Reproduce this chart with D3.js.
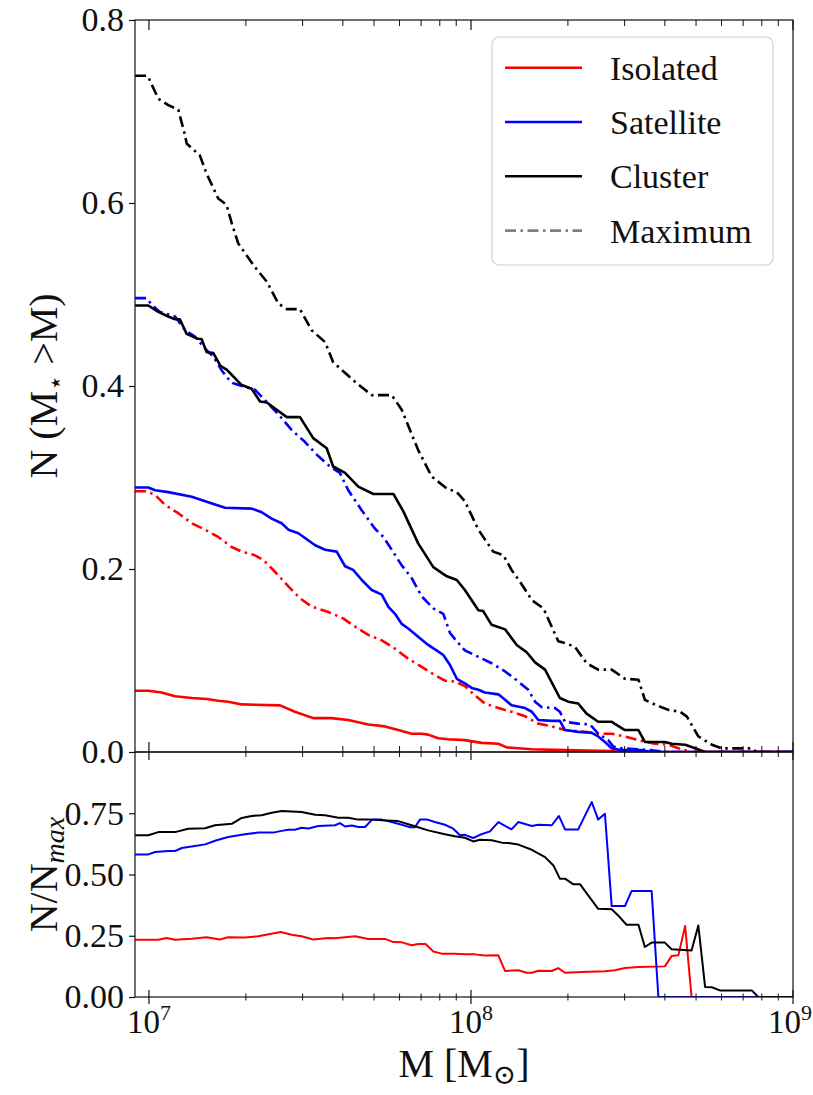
<!DOCTYPE html>
<html lang="en">
<head>
<meta charset="utf-8">
<title>Cumulative mass function</title>
<script src="https://d3js.org/d3.v7.min.js"></script>
<style>
  body { margin: 0; background: #fff; }
  svg { font-family: "Liberation Serif", "DejaVu Serif", serif; }
  .domain { display: none; }
</style>
</head>
<body>
<script>
// values; masses are log10(M / Msun)

// top panel: N(M* > M)
var isoM = [6.957, 6.998, 7.039, 7.081, 7.133, 7.179, 7.215, 7.246, 7.288, 7.407, 7.453, 7.510, 7.567, 7.619, 7.681, 7.733, 7.774, 7.816, 7.847, 7.867, 7.898, 7.930, 7.981, 8.033, 8.085, 8.111, 8.189, 8.292, 8.437, 8.468, 9.0]
var iso = [0.067, 0.067, 0.065, 0.061, 0.059, 0.058, 0.056, 0.055, 0.052, 0.051, 0.044, 0.037, 0.037, 0.035, 0.030, 0.028, 0.024, 0.020, 0.020, 0.019, 0.015, 0.014, 0.013, 0.010, 0.009, 0.005, 0.003, 0.002, 0.001, 0.0, 0.0]

var isoMaxM = [6.957, 6.993, 7.019, 7.050, 7.091, 7.133, 7.174, 7.215, 7.257, 7.288, 7.329, 7.355, 7.391, 7.433, 7.469, 7.505, 7.557, 7.603, 7.640, 7.681, 7.723, 7.764, 7.805, 7.847, 7.888, 7.919, 7.950, 7.981, 8.012, 8.043, 8.085, 8.126, 8.168, 8.209, 8.251, 8.292, 8.354, 8.395, 8.437, 8.478, 8.520, 8.571, 8.613, 8.644, 8.685, 9.0]
var isoMax = [0.285, 0.285, 0.281, 0.270, 0.261, 0.250, 0.243, 0.235, 0.224, 0.219, 0.215, 0.210, 0.197, 0.181, 0.168, 0.159, 0.153, 0.146, 0.137, 0.128, 0.122, 0.113, 0.102, 0.093, 0.084, 0.078, 0.077, 0.072, 0.062, 0.053, 0.048, 0.044, 0.039, 0.031, 0.028, 0.024, 0.022, 0.020, 0.020, 0.017, 0.013, 0.009, 0.008, 0.004, 0.0, 0.0]

var satM = [6.957, 6.998, 7.019, 7.060, 7.133, 7.184, 7.236, 7.319, 7.350, 7.381, 7.412, 7.433, 7.464, 7.516, 7.547, 7.583, 7.609, 7.634, 7.661, 7.692, 7.723, 7.743, 7.764, 7.785, 7.805, 7.836, 7.867, 7.893, 7.914, 7.935, 7.956, 7.981, 8.002, 8.023, 8.043, 8.085, 8.106, 8.126, 8.168, 8.189, 8.209, 8.251, 8.276, 8.292, 8.333, 8.375, 8.395, 8.416, 8.437, 8.468, 8.530, 8.561, 9.0]
var sat = [0.289, 0.289, 0.286, 0.284, 0.279, 0.273, 0.267, 0.266, 0.262, 0.255, 0.250, 0.243, 0.239, 0.226, 0.221, 0.219, 0.203, 0.199, 0.188, 0.177, 0.172, 0.159, 0.151, 0.140, 0.135, 0.126, 0.117, 0.111, 0.106, 0.095, 0.080, 0.075, 0.070, 0.068, 0.065, 0.063, 0.057, 0.051, 0.048, 0.044, 0.035, 0.034, 0.034, 0.024, 0.022, 0.021, 0.017, 0.011, 0.004, 0.002, 0.002, 0.0, 0.0]

var satMaxM = [6.957, 6.993, 7.008, 7.034, 7.081, 7.112, 7.143, 7.174, 7.200, 7.226, 7.246, 7.262, 7.288, 7.329, 7.370, 7.412, 7.443, 7.484, 7.521, 7.562, 7.593, 7.619, 7.661, 7.702, 7.728, 7.754, 7.785, 7.816, 7.847, 7.883, 7.914, 7.935, 7.956, 7.981, 8.023, 8.064, 8.106, 8.147, 8.178, 8.199, 8.220, 8.261, 8.276, 8.292, 8.333, 8.370, 8.395, 8.426, 8.442, 8.468, 8.561, 8.602, 9.0]
var satMax = [0.496, 0.496, 0.489, 0.481, 0.476, 0.461, 0.454, 0.441, 0.432, 0.417, 0.408, 0.403, 0.400, 0.396, 0.381, 0.365, 0.352, 0.339, 0.325, 0.312, 0.305, 0.286, 0.264, 0.244, 0.235, 0.221, 0.204, 0.190, 0.170, 0.157, 0.151, 0.130, 0.121, 0.111, 0.104, 0.097, 0.088, 0.077, 0.068, 0.055, 0.049, 0.048, 0.044, 0.033, 0.031, 0.030, 0.020, 0.013, 0.006, 0.004, 0.002, 0.0, 0.0]

var clM = [6.957, 6.998, 7.029, 7.060, 7.081, 7.096, 7.117, 7.148, 7.164, 7.179, 7.200, 7.222, 7.241, 7.288, 7.319, 7.345, 7.366, 7.428, 7.469, 7.510, 7.552, 7.572, 7.609, 7.650, 7.697, 7.759, 7.790, 7.836, 7.883, 7.925, 7.956, 7.981, 8.023, 8.038, 8.064, 8.106, 8.142, 8.173, 8.199, 8.230, 8.276, 8.302, 8.333, 8.359, 8.395, 8.437, 8.478, 8.520, 8.540, 8.602, 8.623, 8.665, 8.696, 8.727, 9.0]
var cl = [0.488, 0.488, 0.481, 0.476, 0.473, 0.473, 0.457, 0.452, 0.451, 0.437, 0.436, 0.422, 0.418, 0.401, 0.397, 0.383, 0.382, 0.366, 0.366, 0.343, 0.332, 0.312, 0.305, 0.290, 0.282, 0.282, 0.263, 0.228, 0.202, 0.192, 0.188, 0.177, 0.155, 0.154, 0.139, 0.134, 0.117, 0.109, 0.098, 0.090, 0.059, 0.055, 0.053, 0.042, 0.033, 0.033, 0.024, 0.024, 0.011, 0.011, 0.009, 0.008, 0.004, 0.0, 0.0]

var clMaxM = [6.957, 6.996, 7.029, 7.060, 7.091, 7.112, 7.117, 7.158, 7.179, 7.215, 7.241, 7.257, 7.277, 7.329, 7.366, 7.402, 7.428, 7.469, 7.505, 7.547, 7.572, 7.645, 7.692, 7.754, 7.785, 7.836, 7.878, 7.925, 7.956, 7.981, 8.023, 8.069, 8.101, 8.126, 8.158, 8.189, 8.225, 8.271, 8.292, 8.323, 8.359, 8.395, 8.437, 8.478, 8.520, 8.540, 8.576, 8.613, 8.649, 8.670, 8.706, 8.748, 8.779, 8.841, 8.872, 8.887, 9.0]
var clMax = [0.739, 0.739, 0.714, 0.707, 0.702, 0.674, 0.665, 0.652, 0.632, 0.605, 0.598, 0.578, 0.556, 0.530, 0.514, 0.490, 0.484, 0.484, 0.461, 0.448, 0.426, 0.403, 0.390, 0.390, 0.374, 0.330, 0.301, 0.288, 0.284, 0.274, 0.243, 0.219, 0.215, 0.199, 0.183, 0.166, 0.157, 0.121, 0.119, 0.115, 0.097, 0.090, 0.090, 0.080, 0.079, 0.057, 0.051, 0.046, 0.044, 0.039, 0.017, 0.008, 0.004, 0.004, 0.004, 0.0, 0.0]

// bottom panel: N / N_max
var isoFracM = [6.957, 7.029, 7.055, 7.081, 7.133, 7.179, 7.220, 7.246, 7.298, 7.339, 7.376, 7.409, 7.443, 7.474, 7.510, 7.557, 7.578, 7.640, 7.681, 7.733, 7.759, 7.785, 7.816, 7.836, 7.859, 7.883, 7.909, 7.950, 7.981, 8.012, 8.043, 8.085, 8.106, 8.147, 8.173, 8.189, 8.209, 8.251, 8.271, 8.292, 8.344, 8.416, 8.447, 8.478, 8.520, 8.602, 8.623, 8.644, 8.665, 8.685, 9.0]
var isoFrac = [0.234, 0.234, 0.241, 0.234, 0.238, 0.244, 0.235, 0.244, 0.243, 0.248, 0.257, 0.265, 0.254, 0.248, 0.235, 0.241, 0.240, 0.248, 0.237, 0.237, 0.224, 0.223, 0.211, 0.216, 0.216, 0.186, 0.177, 0.177, 0.174, 0.174, 0.169, 0.170, 0.106, 0.109, 0.099, 0.099, 0.107, 0.106, 0.118, 0.099, 0.102, 0.105, 0.109, 0.118, 0.122, 0.125, 0.167, 0.170, 0.290, 0.0, 0.0]

var satFracM = [6.957, 6.998, 7.019, 7.060, 7.081, 7.102, 7.138, 7.174, 7.210, 7.246, 7.298, 7.339, 7.386, 7.412, 7.433, 7.453, 7.474, 7.495, 7.526, 7.578, 7.593, 7.609, 7.630, 7.650, 7.671, 7.693, 7.723, 7.754, 7.785, 7.811, 7.826, 7.842, 7.862, 7.888, 7.919, 7.945, 7.966, 7.981, 8.007, 8.028, 8.059, 8.085, 8.126, 8.147, 8.189, 8.209, 8.251, 8.273, 8.292, 8.333, 8.375, 8.395, 8.416, 8.437, 8.478, 8.499, 8.561, 8.582, 9.0]
var satFrac = [0.582, 0.582, 0.592, 0.596, 0.596, 0.608, 0.615, 0.623, 0.640, 0.653, 0.664, 0.671, 0.671, 0.678, 0.683, 0.683, 0.691, 0.688, 0.698, 0.701, 0.710, 0.696, 0.700, 0.694, 0.694, 0.724, 0.724, 0.714, 0.703, 0.693, 0.693, 0.725, 0.725, 0.714, 0.703, 0.687, 0.660, 0.662, 0.649, 0.662, 0.676, 0.714, 0.684, 0.714, 0.698, 0.703, 0.701, 0.739, 0.684, 0.684, 0.796, 0.724, 0.748, 0.371, 0.371, 0.433, 0.433, 0.0, 0.0]

var clFracM = [6.957, 6.998, 7.029, 7.081, 7.122, 7.174, 7.205, 7.257, 7.288, 7.319, 7.350, 7.381, 7.412, 7.474, 7.516, 7.547, 7.588, 7.619, 7.650, 7.681, 7.723, 7.774, 7.816, 7.867, 7.919, 7.950, 7.981, 8.007, 8.028, 8.064, 8.096, 8.116, 8.147, 8.189, 8.230, 8.256, 8.276, 8.292, 8.318, 8.339, 8.364, 8.395, 8.437, 8.457, 8.483, 8.520, 8.540, 8.561, 8.602, 8.623, 8.685, 8.706, 8.727, 8.748, 8.773, 8.872, 8.892, 9.0]
var clFrac = [0.660, 0.660, 0.673, 0.673, 0.687, 0.689, 0.701, 0.707, 0.731, 0.739, 0.742, 0.752, 0.759, 0.755, 0.744, 0.742, 0.732, 0.732, 0.724, 0.725, 0.721, 0.718, 0.701, 0.680, 0.664, 0.656, 0.650, 0.635, 0.642, 0.640, 0.630, 0.629, 0.622, 0.601, 0.571, 0.537, 0.483, 0.483, 0.460, 0.460, 0.415, 0.360, 0.358, 0.333, 0.295, 0.295, 0.204, 0.222, 0.222, 0.195, 0.190, 0.292, 0.041, 0.040, 0.027, 0.027, 0.0, 0.0]

var legendLabels = ["Isolated", "Satellite", "Cluster", "Maximum"]
var topTicks = [0, 0.2, 0.4, 0.6, 0.8]
var botTicks = [0, 0.25, 0.5, 0.75]
var majorX = [1e7, 1e8, 1e9]
var minorX = [2e7, 3e7, 4e7, 5e7, 6e7, 7e7, 8e7, 9e7, 2e8, 3e8, 4e8, 5e8, 6e8, 7e8, 8e8, 9e8]

var width = 813, height = 1095
var left = 135, right = 793, top1 = 20, mid = 752, bottom2 = 997

var svg = d3.select("body").append("svg")
    .attr("width", width)
    .attr("height", height)

var x = d3.scaleLog().domain([9.05e6, 1e9]).range([left, right])
var yTop = d3.scaleLinear().domain([0, 0.8]).range([mid, top1])
var yBot = d3.scaleLinear().domain([0, 1]).range([bottom2, mid])

var defs = svg.append("defs")
defs.append("clipPath").attr("id", "clipTop").append("rect")
    .attr("x", left).attr("y", top1).attr("width", right - left).attr("height", mid - top1)
defs.append("clipPath").attr("id", "clipBot").append("rect")
    .attr("x", left).attr("y", mid).attr("width", right - left).attr("height", bottom2 - mid)

var dashDot = "11,4.5,2.5,4.5"

function zip(m, v) { return m.map(function(d, i) { return [d, v[i]] }) }

var lineTop = d3.line().x(function(d) { return x(Math.pow(10, d[0])) }).y(function(d) { return yTop(d[1]) })
var lineBot = d3.line().x(function(d) { return x(Math.pow(10, d[0])) }).y(function(d) { return yBot(d[1]) })

var topSeries = [
  {m: isoM, v: iso, color: "#ff0000", dash: null},
  {m: isoMaxM, v: isoMax, color: "#ff0000", dash: dashDot},
  {m: satM, v: sat, color: "#0000ff", dash: null},
  {m: satMaxM, v: satMax, color: "#0000ff", dash: dashDot},
  {m: clM, v: cl, color: "#000000", dash: null},
  {m: clMaxM, v: clMax, color: "#000000", dash: dashDot}
]
var botSeries = [
  {m: isoFracM, v: isoFrac, color: "#ff0000"},
  {m: satFracM, v: satFrac, color: "#0000ff"},
  {m: clFracM, v: clFrac, color: "#000000"}
]

var linesTopG = svg.append("g").attr("clip-path", "url(#clipTop)")
linesTopG.selectAll("path")
    .data(topSeries)
    .enter()
    .append("path")
    .attr("d", function(d) { return lineTop(zip(d.m, d.v)) })
    .attr("fill", "none")
    .attr("stroke", function(d) { return d.color })
    .attr("stroke-width", 2.6)
    .attr("stroke-linejoin", "round")
    .attr("stroke-dasharray", function(d) { return d.dash })

var linesBotG = svg.append("g").attr("clip-path", "url(#clipBot)")
linesBotG.selectAll("path")
    .data(botSeries)
    .enter()
    .append("path")
    .attr("d", function(d) { return lineBot(zip(d.m, d.v)) })
    .attr("fill", "none")
    .attr("stroke", function(d) { return d.color })
    .attr("stroke-width", 2)
    .attr("stroke-linejoin", "round")

// frames
svg.append("rect").attr("x", left).attr("y", top1).attr("width", right - left).attr("height", mid - top1)
    .attr("fill", "none").attr("stroke", "#111").attr("stroke-width", 1.2)
svg.append("rect").attr("x", left).attr("y", mid).attr("width", right - left).attr("height", bottom2 - mid)
    .attr("fill", "none").attr("stroke", "#111").attr("stroke-width", 1.2)

// x ticks at a given y, lengths above / below the spine
function xTicks(y, majUp, majDown, minUp, minDown) {
  var g = svg.append("g")
  g.selectAll("line.maj").data(majorX).enter().append("line")
      .attr("x1", function(d) { return x(d) }).attr("x2", function(d) { return x(d) })
      .attr("y1", y - majUp).attr("y2", y + majDown)
      .attr("stroke", "#111").attr("stroke-width", 1.2)
  g.selectAll("line.min").data(minorX).enter().append("line")
      .attr("x1", function(d) { return x(d) }).attr("x2", function(d) { return x(d) })
      .attr("y1", y - minUp).attr("y2", y + minDown)
      .attr("stroke", "#111").attr("stroke-width", 1)
}
xTicks(top1, 0, 10, 0, 6)
xTicks(mid, 10, 8, 6, 5)
xTicks(bottom2, 7, 7, 3.5, 3.5)

// y axes
svg.append("g")
    .attr("transform", "translate(" + left + ",0)")
    .call(d3.axisLeft(yTop).tickValues(topTicks).tickSize(6).tickPadding(5).tickFormat(d3.format(".1f")))
svg.append("g")
    .attr("transform", "translate(" + left + ",0)")
    .call(d3.axisLeft(yBot).tickValues(botTicks).tickSize(6).tickPadding(5).tickFormat(d3.format(".2f")))
svg.selectAll(".tick text")
    .attr("font-family", "Liberation Serif, DejaVu Serif, serif")
    .attr("font-size", 34)
    .attr("fill", "#111")
svg.selectAll(".tick line").attr("stroke", "#111").attr("stroke-width", 1.2)

// x tick labels 10^n
var xl = svg.append("g")
xl.selectAll("text")
    .data(majorX)
    .enter()
    .append("text")
    .attr("x", function(d) { return x(d) })
    .attr("y", 1033)
    .attr("text-anchor", "middle")
    .attr("font-size", 33)
    .attr("fill", "#111")
    .each(function(d) {
      var t = d3.select(this)
      t.append("tspan").text("10")
      t.append("tspan").attr("dy", -13).attr("font-size", 22).text(Math.round(Math.log10(d)))
      // keep the last label inside the page
      var b = this.getBBox()
      if (b.x + b.width > width - 1) t.attr("x", x(d) - (b.x + b.width - width + 1))
    })

// axis labels
svg.append("text")
    .attr("x", (left + right) / 2)
    .attr("y", 1077)
    .attr("text-anchor", "middle")
    .attr("font-size", 40)
    .attr("fill", "#111")
    .call(function(t) {
      t.append("tspan").text("M [M")
      t.append("tspan").attr("dy", 7).attr("font-size", 28).text("\u2299")
      t.append("tspan").attr("dy", -7).text("]")
    })

svg.append("text")
    .attr("transform", "translate(57," + (top1 + mid) / 2 + ") rotate(-90)")
    .attr("text-anchor", "middle")
    .attr("font-size", 40)
    .attr("fill", "#111")
    .call(function(t) {
      t.append("tspan").text("N (M")
      t.append("tspan").attr("dy", 7).attr("font-size", 26).text("\u22c6")
      t.append("tspan").attr("dy", -7).text(" >M)")
    })

svg.append("text")
    .attr("transform", "translate(57," + (mid + bottom2) / 2 + ") rotate(-90)")
    .attr("text-anchor", "middle")
    .attr("font-size", 40)
    .attr("fill", "#111")
    .call(function(t) {
      t.append("tspan").text("N/N")
      t.append("tspan").attr("dy", 7).attr("font-size", 28).attr("font-style", "italic").text("max")
    })

// legend
var legend = svg.append("g")
legend.append("rect")
    .attr("x", 492).attr("y", 37).attr("width", 281).attr("height", 228)
    .attr("rx", 7)
    .attr("fill", "#fff").attr("fill-opacity", 0.8)
    .attr("stroke", "#d0d0d0").attr("stroke-width", 1.2)

var legendColors = ["#ff0000", "#0000ff", "#000000", "#808080"]
var legendRows = legend.selectAll("g.row")
    .data(legendLabels)
    .enter()
    .append("g")
    .attr("transform", function(d, i) { return "translate(0," + (67.7 + i * 54.3) + ")" })
legendRows.append("line")
    .attr("x1", 505).attr("x2", 582).attr("y1", 0).attr("y2", 0)
    .attr("stroke", function(d, i) { return legendColors[i] })
    .attr("stroke-width", 2.6)
    .attr("stroke-dasharray", function(d, i) { return i === 3 ? dashDot : null })
legendRows.append("text")
    .attr("x", 610).attr("y", 12)
    .attr("font-size", 34)
    .attr("fill", "#111")
    .text(function(d) { return d })
</script>
</body>
</html>
